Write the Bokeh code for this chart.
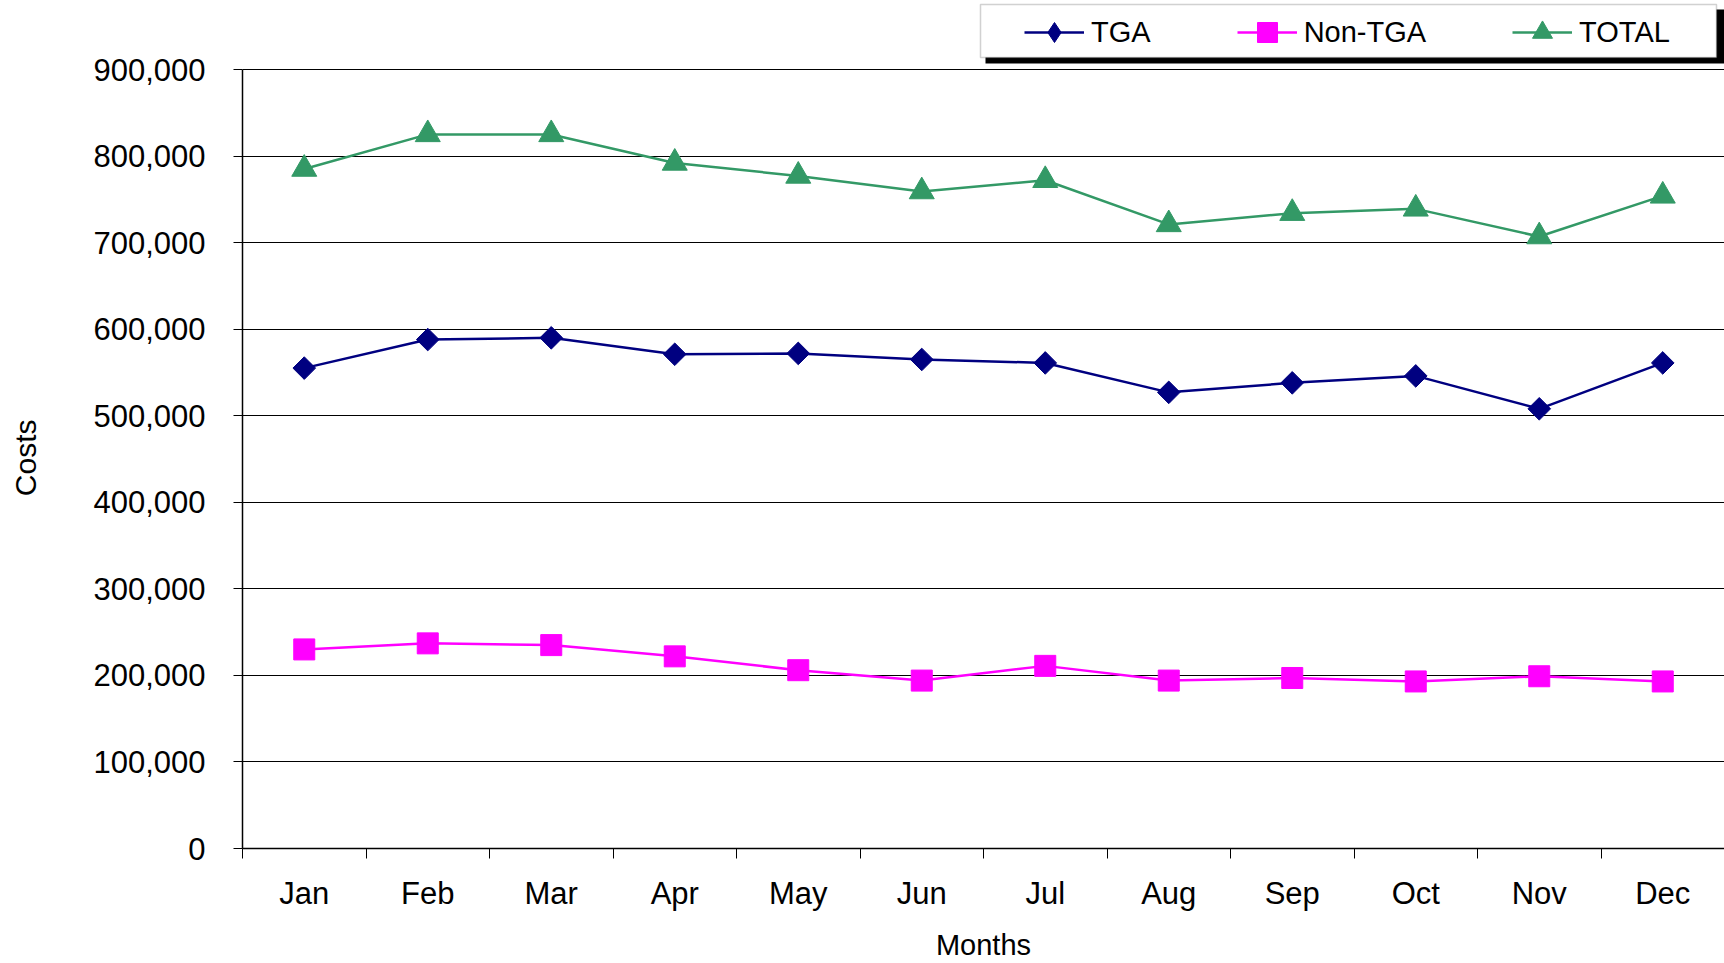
from bokeh.plotting import figure
from bokeh.models import (Range1d, FixedTicker, NumeralTickFormatter, Legend,
                          LegendItem, BoxAnnotation)
from bokeh.embed import file_html
from bokeh.resources import INLINE
import math

months = ["Jan", "Feb", "Mar", "Apr", "May", "Jun",
          "Jul", "Aug", "Sep", "Oct", "Nov", "Dec"]
tga = [555000, 588000, 590000, 571000, 572000, 565000,
       561000, 527000, 538000, 546000, 508000, 561000]
non_tga = [230000, 237000, 235000, 222000, 206000, 194000,
           211000, 194000, 197000, 193000, 199000, 193000]
total = [785000, 825000, 825000, 792000, 777000, 759000,
         772000, 721000, 734000, 739000, 707000, 754000]
y_ticks = [0, 100000, 200000, 300000, 400000, 500000,
           600000, 700000, 800000, 900000]

FONT = "Liberation Sans"
W, H = 1724, 963
FRAME_LEFT, FRAME_BOTTOM, TOP_GAP = 242, 848, 69   # layout in pixels
x = list(range(len(months)))

# frame spans from the canvas top; the 900,000 line sits TOP_GAP px below it
y_end = y_ticks[-1] * FRAME_BOTTOM / (FRAME_BOTTOM - TOP_GAP)

p = figure(width=W, height=H, output_backend="svg", toolbar_location=None,
           x_range=Range1d(-0.5, len(months) - 0.5),
           y_range=Range1d(y_ticks[0], y_end),
           min_border_left=FRAME_LEFT, min_border_right=0,
           min_border_top=0, min_border_bottom=H - FRAME_BOTTOM)
p.outline_line_color = None
p.background_fill_color = "white"
p.border_fill_color = "white"
p.xgrid.visible = False
p.ygrid.grid_line_color = "#000000"
p.ygrid.grid_line_width = 1

# x axis
xa = p.xaxis[0]
xa.ticker = FixedTicker(ticks=x, minor_ticks=[i - 0.5 for i in range(len(months) + 1)])
xa.major_label_overrides = {i: m for i, m in enumerate(months)}
xa.major_tick_line_color = None
xa.major_tick_out = 0
xa.major_tick_in = 0
xa.minor_tick_line_color = "black"
xa.minor_tick_out = 10
xa.minor_tick_in = 0
xa.axis_line_color = "black"
xa.axis_line_width = 1.5
xa.major_label_text_font = FONT
xa.major_label_text_font_size = "31px"
xa.major_label_text_color = "black"
xa.major_label_standoff = 17
xa.axis_label = "Months"
xa.axis_label_text_font = FONT
xa.axis_label_text_font_size = "29px"
xa.axis_label_text_font_style = "normal"
xa.axis_label_text_color = "black"
xa.axis_label_standoff = 15

# y axis
ya = p.yaxis[0]
ya.ticker = FixedTicker(ticks=y_ticks)
ya.bounds = (y_ticks[0], y_ticks[-1])
ya.formatter = NumeralTickFormatter(format="0,0")
ya.major_tick_out = 9
ya.major_tick_in = 0
ya.major_tick_line_color = "black"
ya.minor_tick_line_color = None
ya.axis_line_color = "black"
ya.axis_line_width = 1.5
ya.major_label_text_font = FONT
ya.major_label_text_font_size = "31px"
ya.major_label_text_color = "black"
ya.major_label_standoff = 28
# trailing no-break spaces centre the word on the 0..900,000 part of the axis
ya.axis_label = "Costs" + "\u00a0" * 8
ya.axis_label_text_font = FONT
ya.axis_label_text_font_size = "30px"
ya.axis_label_text_font_style = "normal"
ya.axis_label_text_color = "black"
ya.axis_label_standoff = 48

NAVY = "#000080"
MAGENTA = "#FF00FF"
GREEN = "#339966"

l1 = p.line(x, tga, line_color=NAVY, line_width=2.5)
s1 = p.scatter(x, tga, marker="square", angle=math.pi / 4, size=16,
               fill_color=NAVY, line_color=NAVY)
# legend swatch only (the legend does not rotate markers)
d1 = p.scatter(x, tga, marker="diamond", size=16,
               fill_color=NAVY, line_color=NAVY, visible=False)
l2 = p.line(x, non_tga, line_color=MAGENTA, line_width=2.5)
s2 = p.scatter(x, non_tga, marker="square", size=21,
               fill_color=MAGENTA, line_color=MAGENTA)
l3 = p.line(x, total, line_color=GREEN, line_width=2.5)
s3 = p.scatter(x, total, marker="triangle", size=25,
               fill_color=GREEN, line_color=GREEN)

# legend box with drop shadow (canvas pixels)
shadow = BoxAnnotation(left=985, right=1724, top=9, bottom=63,
                       left_units="canvas", right_units="canvas",
                       top_units="canvas", bottom_units="canvas",
                       fill_color="black", fill_alpha=1, line_color=None,
                       level="overlay")
box = BoxAnnotation(left=980, right=1716, top=4, bottom=57,
                    left_units="canvas", right_units="canvas",
                    top_units="canvas", bottom_units="canvas",
                    fill_color="white", fill_alpha=1,
                    line_color="#666666", line_width=1.5, level="overlay")
p.add_layout(shadow)
p.add_layout(box)

legend = Legend(items=[LegendItem(label="TGA", renderers=[l1, d1]),
                       LegendItem(label="Non-TGA", renderers=[l2, s2]),
                       LegendItem(label="TOTAL", renderers=[l3, s3])],
                orientation="horizontal", location=(782, 791),
                padding=0, margin=0, spacing=86,
                glyph_width=60, glyph_height=50, label_standoff=7,
                label_text_font=FONT, label_text_font_size="29px",
                label_text_color="black", level="overlay",
                border_line_color=None, background_fill_alpha=0)
p.add_layout(legend, "center")

open("out.html", "w").write(file_html(p, INLINE))
